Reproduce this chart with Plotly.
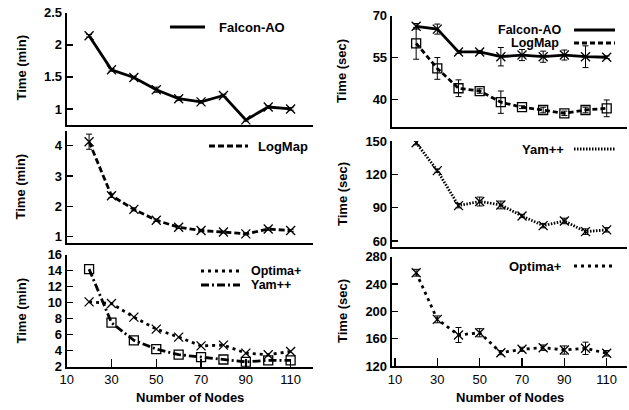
import plotly.graph_objects as go

nodes = [20, 30, 40, 50, 60, 70, 80, 90, 100, 110]

falcon_min = [2.14, 1.61, 1.49, 1.30, 1.16, 1.11, 1.21, 0.83, 1.03, 1.00]
falcon_min_err = [0.02, 0.02, 0.02, 0.04, 0.03, 0.02, 0.02, 0.02, 0.02, 0.02]
logmap_min = [4.13, 2.35, 1.90, 1.54, 1.31, 1.20, 1.15, 1.09, 1.25, 1.20]
logmap_min_err = [0.25, 0.06, 0.05, 0.04, 0.04, 0.04, 0.03, 0.03, 0.04, 0.03]
optima_min = [10.1, 9.9, 8.2, 6.7, 5.7, 4.6, 4.7, 3.7, 3.5, 3.9]
yam_min = [14.2, 7.5, 5.3, 4.2, 3.5, 3.2, 2.9, 2.6, 2.8, 2.8]

falcon_sec = [66.2, 65.2, 57.0, 57.0, 55.3, 55.9, 55.3, 55.9, 55.3, 55.1]
falcon_sec_err = [1.0, 1.8, 0.5, 0.5, 3.3, 2.0, 2.0, 1.8, 3.9, 0.5]
logmap_sec = [60.1, 51.1, 44.0, 43.0, 39.0, 37.2, 36.2, 35.0, 36.2, 36.8]
logmap_sec_err = [5.7, 3.9, 3.0, 0.8, 4.0, 0.5, 1.0, 0.8, 1.0, 3.0]
yam_sec = [148.5, 123.3, 91.8, 95.5, 92.4, 82.5, 73.8, 78.0, 68.4, 70.0]
yam_sec_err = [2.0, 1.5, 2.0, 4.0, 3.5, 1.5, 2.0, 2.5, 2.5, 2.0]
optima_sec = [256.5, 188.3, 165.4, 168.7, 139.5, 144.4, 146.8, 143.4, 145.9, 138.6]
optima_sec_err = [5, 5, 11, 6, 3, 3, 4, 6, 9, 4]

x_ticks = [10, 30, 50, 70, 90, 110]

W, H = 629, 410
FONT = "Liberation Sans"
BLACK = "#000000"

fig = go.Figure()


def px_x(p):
    return p / W


def px_y(p):
    return 1 - p / H


panels = [
    ("x", "y", (66.7, 313), (12.7, 125), [10, 120], [0.75, 2.5], [1, 1.5, 2, 2.5], False),
    ("x2", "y2", (66.7, 313), (130.5, 243.3), [10, 120], [0.78, 4.5], [1, 2, 3, 4], False),
    ("x3", "y3", (66.7, 313), (254.7, 366.7), [10, 120], [2, 16], [2, 4, 6, 8, 10, 12, 14, 16], True),
    ("x4", "y4", (391.7, 626.7), (15.7, 127.3), [8.45, 119.45], [30, 70], [40, 55, 70], False),
    ("x5", "y5", (391.7, 626.7), (141, 246.5), [8.45, 119.45], [55, 150], [60, 90, 120, 150], False),
    ("x6", "y6", (391.7, 626.7), (256.7, 366), [8.45, 119.45], [120, 280], [120, 160, 200, 240, 280], True),
]

layout_axes = {}
for xa, ya, (x0, x1), (yt, yb), xr, yr, yt_vals, showx in panels:
    xkey = "xaxis" if xa == "x" else "xaxis" + xa[1:]
    ykey = "yaxis" if ya == "y" else "yaxis" + ya[1:]
    layout_axes[xkey] = dict(
        domain=[px_x(x0), px_x(x1)], range=xr, anchor=ya,
        showline=True, linewidth=2, linecolor=BLACK, mirror=False,
        showgrid=False, zeroline=False, automargin=False,
        tickvals=x_ticks if showx else [], ticks="inside" if showx else "",
        ticklen=8, tickwidth=1.5, tickcolor=BLACK,
        showticklabels=showx,
        tickfont=dict(family=FONT, size=13, color=BLACK),
    )
    layout_axes[ykey] = dict(
        domain=[px_y(yb), px_y(yt)], range=yr, anchor=xa,
        showline=True, linewidth=2, linecolor=BLACK,
        showgrid=False, zeroline=False, automargin=False,
        tickvals=yt_vals, ticks="inside", ticklen=6, tickwidth=1.5, tickcolor=BLACK,
        tickfont=dict(family=FONT, size=13, color=BLACK, weight="bold"),
    )


def add(x, y, err, xa, ya, name, dash, symbol, width=2.5, msize=9):
    fig.add_trace(go.Scatter(
        x=x, y=y, xaxis=xa, yaxis=ya, name=name, mode="lines+markers",
        line=dict(color=BLACK, width=width, dash=dash),
        marker=dict(symbol=symbol, size=msize, color=BLACK,
                    line=dict(color=BLACK, width=1.3)),
        error_y=dict(type="data", array=err, visible=True,
                     color=BLACK, thickness=1, width=3) if err is not None else None,
        showlegend=False,
    ))


add(nodes, falcon_min, falcon_min_err, "x", "y", "Falcon-AO", "solid", "x-thin-open", width=2.8)
add(nodes, logmap_min, logmap_min_err, "x2", "y2", "LogMap", "6px,3px", "x-thin-open", width=2.8)
add(nodes, optima_min, None, "x3", "y3", "Optima+", "3px,4px", "x-thin-open", width=2.8)
add(nodes, yam_min, None, "x3", "y3", "Yam++", "8px,3px,2px,3px", "square-open", width=2.8, msize=9)
add(nodes, falcon_sec, falcon_sec_err, "x4", "y4", "Falcon-AO", "solid", "x-thin-open", width=2.8)
add(nodes, logmap_sec, logmap_sec_err, "x4", "y4", "LogMap", "5px,3px", "square-open", width=2.8, msize=9)
add(nodes, yam_sec, yam_sec_err, "x5", "y5", "Yam++", "1.5px,1.5px", "x-thin-open", width=2.8)
add(nodes, optima_sec, optima_sec_err, "x6", "y6", "Optima+", "3px,4px", "x-thin-open", width=2.8)

shapes = []
annotations = []


def legend(text, y, line_x0, line_x1, text_x, anchor, dash, size=13):
    shapes.append(dict(type="line", xref="paper", yref="paper",
                       x0=px_x(line_x0), x1=px_x(line_x1), y0=px_y(y), y1=px_y(y),
                       line=dict(color=BLACK, width=2.8, dash=dash)))
    annotations.append(dict(text=text, xref="paper", yref="paper",
                            x=px_x(text_x), y=px_y(y), xanchor=anchor, yanchor="middle",
                            showarrow=False,
                            font=dict(family=FONT, size=size, color=BLACK, weight="bold")))


legend("Falcon-AO", 27, 170, 205, 217, "left", "solid")
legend("LogMap", 146, 209, 248, 256, "left", "6px,3px")
legend("Optima+", 271, 201, 240, 249, "left", "3px,4px", 12.5)
legend("Yam++", 285, 201, 240, 249, "left", "8px,3px,2px,3px", 12.5)
legend("Falcon-AO", 30, 574, 615, 563, "right", "solid", 12.5)
legend("LogMap", 43, 574, 615, 561, "right", "5px,3px", 12.5)
legend("Yam++", 149, 574, 615, 566, "right", "1.5px,1.5px")
legend("Optima+", 266, 574, 615, 564, "right", "3px,4px")


def title_y(text, xpx, ypx):
    annotations.append(dict(text=text, xref="paper", yref="paper", x=px_x(xpx), y=px_y(ypx),
                            xanchor="center", yanchor="middle", textangle=-90, showarrow=False,
                            font=dict(family=FONT, size=13, color=BLACK, weight="bold")))


def title_x(text, xpx, ypx):
    annotations.append(dict(text=text, xref="paper", yref="paper", x=px_x(xpx), y=px_y(ypx),
                            xanchor="center", yanchor="middle", showarrow=False,
                            font=dict(family=FONT, size=13, color=BLACK, weight="bold")))


title_y("Time (min)", 20.5, 68)
title_y("Time (min)", 20.5, 187)
title_y("Time (min)", 20.5, 311)
title_y("Time (sec)", 342, 71)
title_y("Time (sec)", 342, 194)
title_y("Time (sec)", 342, 311)
title_x("Number of Nodes", 190, 397)
title_x("Number of Nodes", 510, 397)

fig.update_layout(
    width=W, height=H,
    margin=dict(l=0, r=0, t=0, b=0, pad=0, autoexpand=False),
    plot_bgcolor="white", paper_bgcolor="white",
    showlegend=False, hovermode=False,
    shapes=shapes, annotations=annotations,
    font=dict(family=FONT, color=BLACK),
    **layout_axes,
)

fig.write_html(
    "out.html",
    config={"displayModeBar": False, "staticPlot": True},
    post_script="document.body.style.margin='0px';document.body.style.padding='0px';document.body.style.overflow='hidden';",
)
